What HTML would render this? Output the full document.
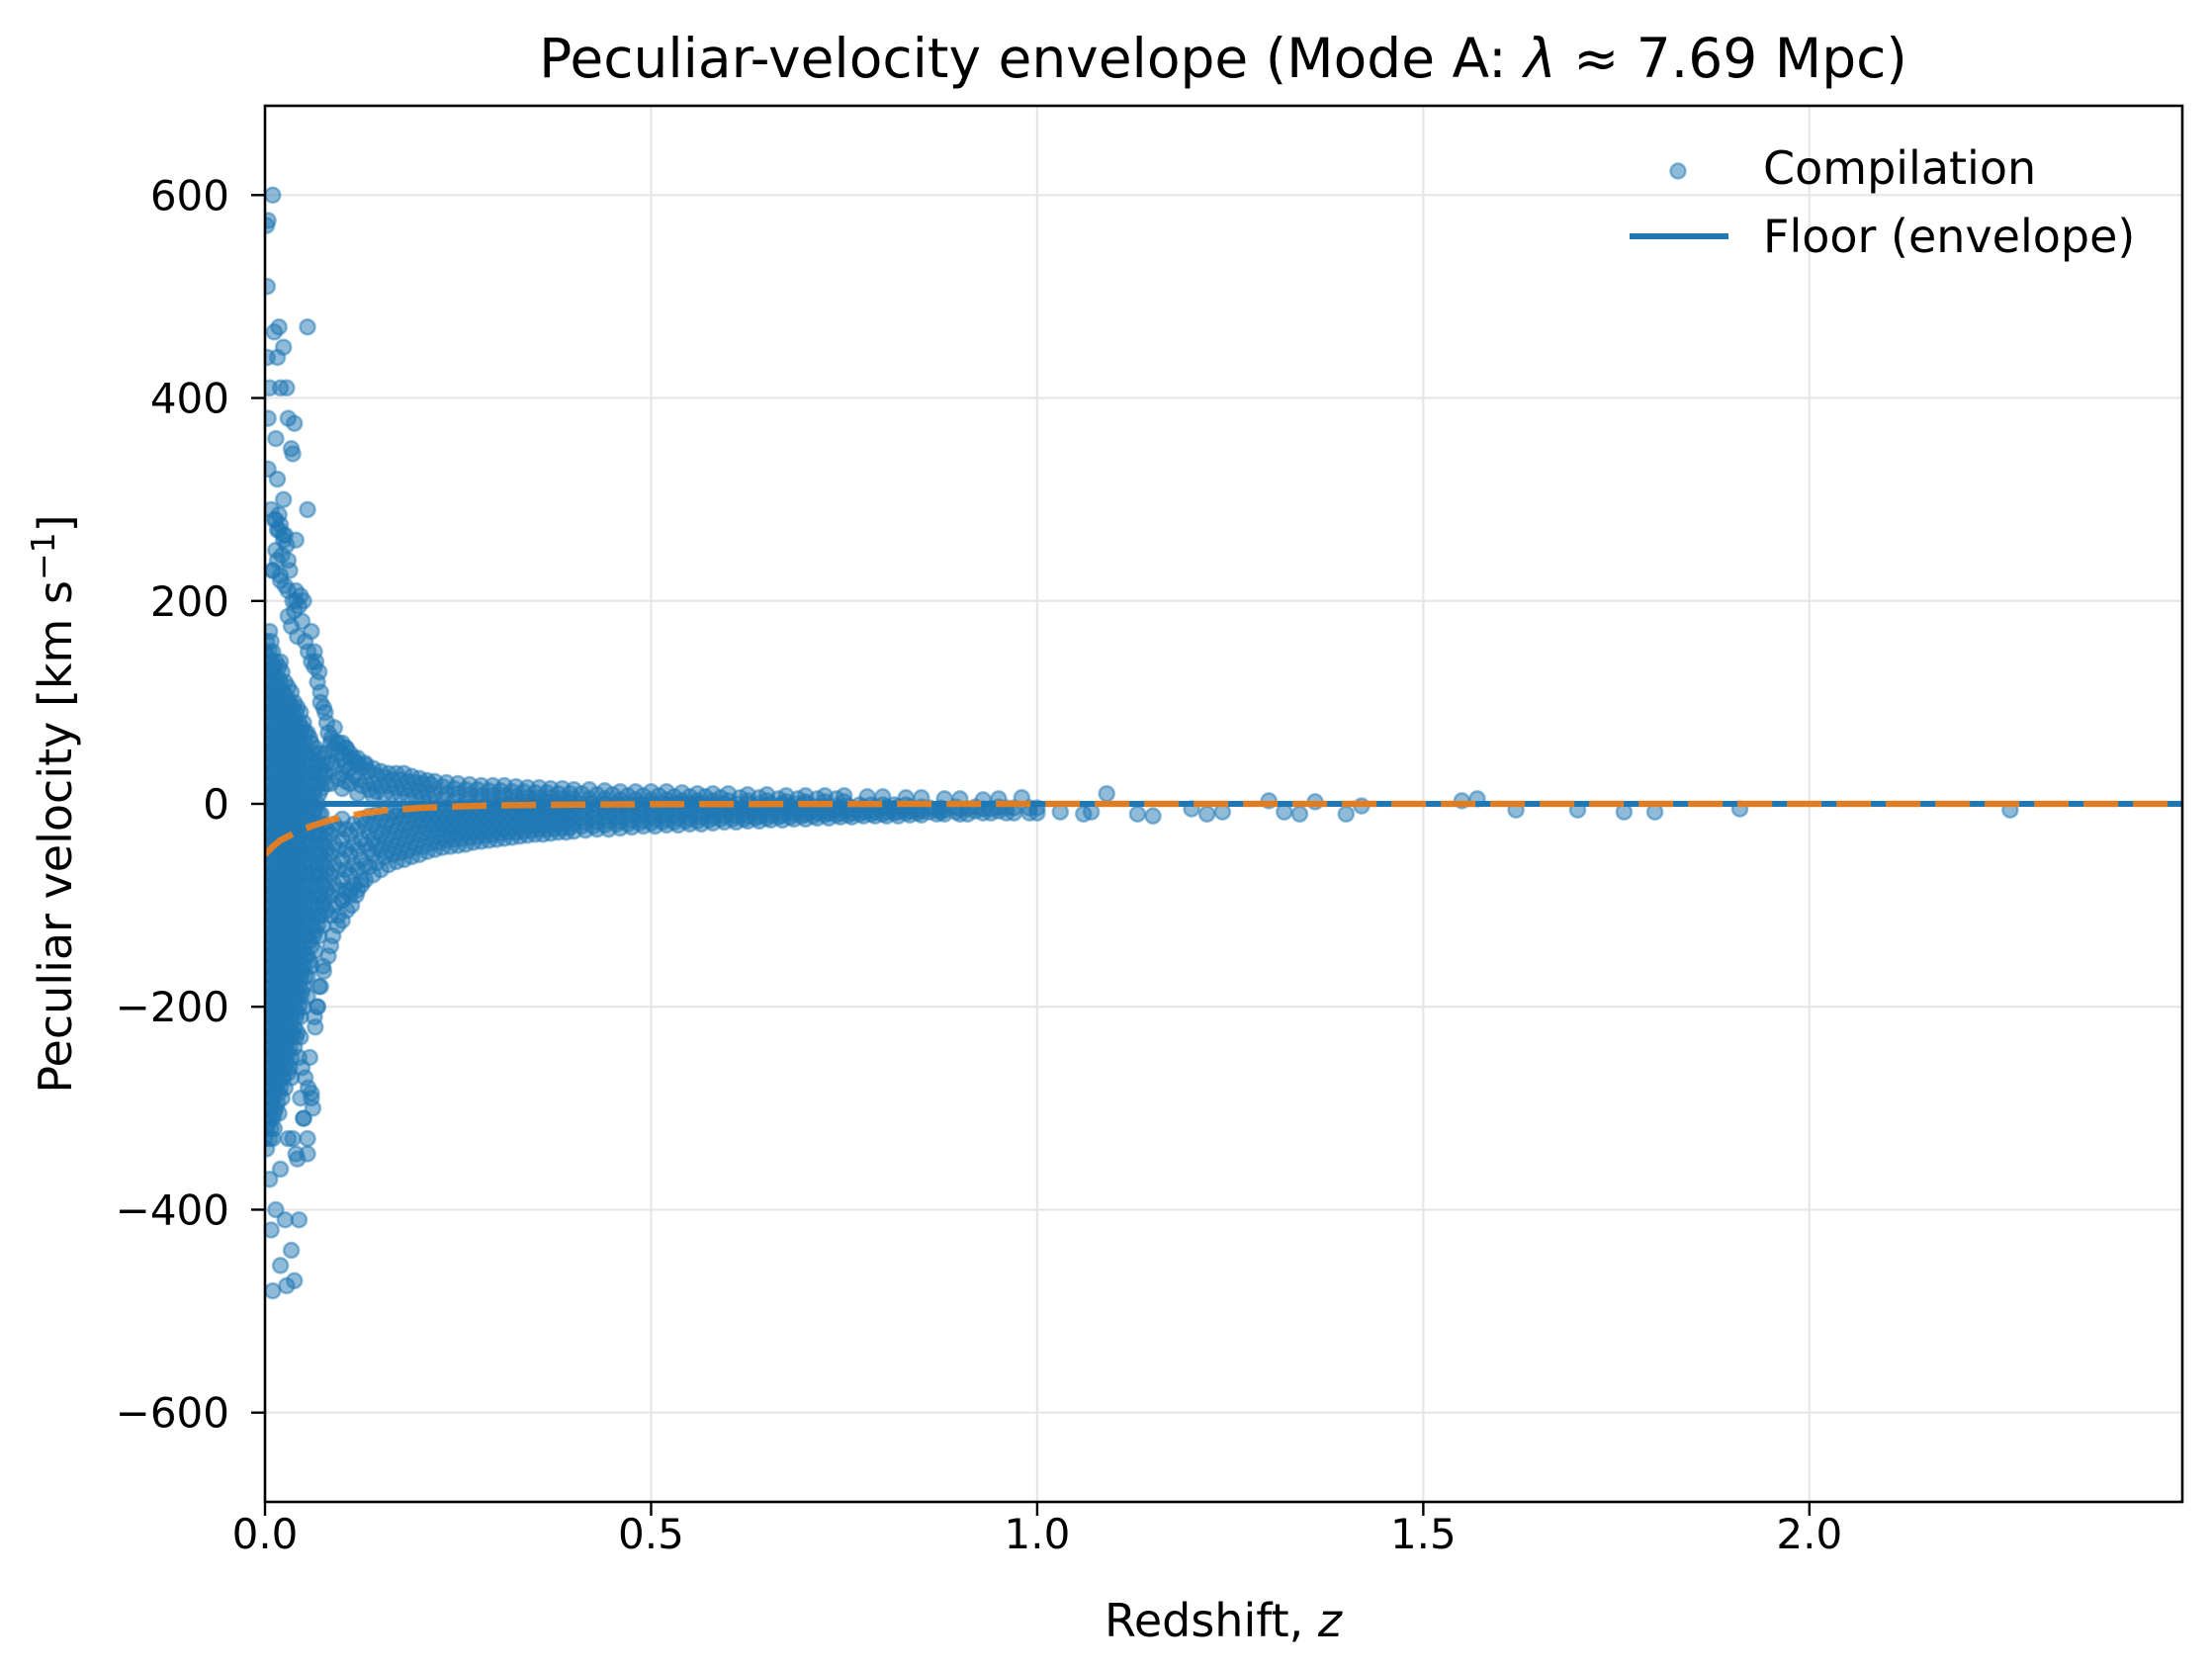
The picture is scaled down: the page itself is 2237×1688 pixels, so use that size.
<!DOCTYPE html>
<html><head><meta charset="utf-8"><title>Peculiar-velocity envelope</title>
<style>html,body{margin:0;padding:0;background:#fff}svg{display:block}text{font-family:"DejaVu Sans","Liberation Sans",sans-serif;fill:#000}</style>
</head><body>
<svg id="chart" xmlns="http://www.w3.org/2000/svg" width="2237" height="1688" viewBox="0 0 2237 1688"></svg>
<script>
// ---- data ----
const xTicks = [0, 0.5, 1.0, 1.5, 2.0];
const xTickLabels = ["0.0", "0.5", "1.0", "1.5", "2.0"];
const yTicks = [-600, -400, -200, 0, 200, 400, 600];
const yTickLabels = ["\u2212600", "\u2212400", "\u2212200", "0", "200", "400", "600"];
const coreColumns = [
[0.002,160,140,120,100,80,60,40,20,0,-20,-40,-60,-80,-100,-120,-140,-160,-180,-200,-220,-240,-260,-280,-300,-320,-340],
[0.006,170,150,130,110,90,70,50,30,10,-10,-30,-50,-70,-90,-110,-130,-150,-170,-190,-210,-230,-250,-270,-290,-310,-330],
[0.010,150,130,110,90,70,50,30,10,-10,-30,-50,-70,-90,-110,-130,-150,-170,-190,-210,-230,-250,-270,-290,-310,-330],
[0.014,140,120,100,80,60,40,20,0,-20,-40,-60,-80,-100,-120,-140,-160,-180,-200,-220,-240,-260,-280,-300],
[0.018,135,115,95,75,55,35,15,-5,-25,-45,-65,-85,-105,-125,-145,-165,-185,-205,-225,-245,-265,-285,-305],
[0.022,130,110,90,70,50,30,10,-10,-30,-50,-70,-90,-110,-130,-150,-170,-190,-210,-230,-250,-270,-290],
[0.026,120,100,80,60,40,20,0,-20,-40,-60,-80,-100,-120,-140,-160,-180,-200,-220,-240,-260,-280],
[0.030,115,95,75,55,35,15,-5,-25,-45,-65,-85,-105,-125,-145,-165,-185,-205,-225,-245,-265],
[0.034,110,90,70,50,30,10,-10,-30,-50,-70,-90,-110,-130,-150,-170,-190,-210,-230,-250,-270],
[0.038,100,80,60,40,20,0,-20,-40,-60,-80,-100,-120,-140,-160,-180,-200,-220,-240],
[0.042,95,75,55,35,15,-5,-25,-45,-65,-85,-105,-125,-145,-165,-185,-205,-225],
[0.046,90,70,50,30,10,-10,-30,-50,-70,-90,-110,-130,-150,-170,-190,-210,-230],
[0.050,80,60,40,20,0,-20,-40,-60,-80,-100,-120,-140,-160,-180,-200],
[0.055,70,50,30,10,-10,-30,-50,-70,-90,-110,-130,-150,-170,-190],
[0.060,60,40,20,0,-20,-40,-60,-80,-100,-120,-140,-160],
[0.065,55,35,15,-5,-25,-45,-65,-85,-105,-125,-145],
[0.070,50,30,10,-10,-30,-50,-70,-90,-110,-130],
[0.075,45,25,-20,-40,-60,-80,-100,-120],
[0.080,40,20,-25,-45,-65,-85,-105]
];
const coreColumnsFill = [
[0.000,150,130,110,90,70,50,30,10,-10,-30,-50,-70,-90,-110,-130,-150,-170,-190,-210,-230,-250,-270,-290,-310,-330],
[0.004,145,125,105,85,65,45,25,5,-15,-35,-55,-75,-95,-115,-135,-155,-175,-195,-215,-235,-255,-275,-295,-315],
[0.008,160,140,120,100,80,60,40,20,0,-20,-40,-60,-80,-100,-120,-140,-160,-180,-200,-220,-240,-260,-280,-300,-320],
[0.012,135,115,95,75,55,35,15,-5,-25,-45,-65,-85,-105,-125,-145,-165,-185,-205,-225,-245,-265,-285,-305],
[0.016,125,105,85,65,45,25,5,-15,-35,-55,-75,-95,-115,-135,-155,-175,-195,-215,-235,-255,-275,-295],
[0.020,140,120,100,80,60,40,20,0,-20,-40,-60,-80,-100,-120,-140,-160,-180,-200,-220,-240,-260,-280],
[0.024,110,90,70,50,30,10,-10,-30,-50,-70,-90,-110,-130,-150,-170,-190,-210,-230,-250,-270],
[0.028,105,85,65,45,25,5,-15,-35,-55,-75,-95,-115,-135,-155,-175,-195,-215,-235,-255],
[0.032,100,80,60,40,20,0,-20,-40,-60,-80,-100,-120,-140,-160,-180,-200,-220,-240,-260],
[0.036,95,75,55,35,15,-5,-25,-45,-65,-85,-105,-125,-145,-165,-185,-205,-225],
[0.040,90,70,50,30,10,-10,-30,-50,-70,-90,-110,-130,-150,-170,-190,-210],
[0.044,80,60,40,20,0,-20,-40,-60,-80,-100,-120,-140,-160,-180,-200],
[0.048,75,55,35,15,-5,-25,-45,-65,-85,-105,-125,-145,-165,-185],
[0.052,70,50,30,10,-10,-30,-50,-70,-90,-110,-130,-150,-170],
[0.058,65,45,25,5,-15,-35,-55,-75,-95,-115,-135,-155],
[0.063,50,30,10,-10,-30,-50,-70,-90,-110,-130],
[0.068,40,20,0,-20,-40,-60,-80,-100,-120],
[0.073,35,15,-10,-30,-50,-70,-90,-110],
[0.078,50,30,-35,-55,-75,-95]
];
const lowerBand = [
[0.09,-20,-40,-60,-80,-100],[0.10,-15,-35,-55,-75,-95],[0.11,-30,-50,-70,-90],[0.12,-25,-45,-65,-85],
[0.13,-20,-40,-60,-75],[0.14,-20,-35,-50,-70],[0.15,-15,-30,-45,-65],[0.16,-15,-30,-45,-60],
[0.17,-12,-27,-42,-57],[0.18,-12,-25,-40,-55],[0.19,-11,-24,-38,-52],[0.20,-10,-22,-35,-50],[0.21,-10,-21,-33,-47],
[0.22,-10,-20,-32,-45],[0.23,-9,-20,-31,-43],[0.24,-8,-20,-30,-42],[0.25,-8,-19,-29,-41],[0.26,-8,-18,-28,-40],[0.27,-7,-17,-27,-38],[0.28,-6,-16,-26,-37],
[0.29,-6,-16,-25,-36],[0.30,-5,-15,-25,-35],[0.31,-5,-15,-24,-34],[0.32,-5,-14,-24,-33],[0.33,-5,-14,-23,-32],[0.34,-4,-13,-22,-31],[0.35,-4,-13,-21,-30],[0.36,-4,-12,-21,-30],
[0.37,-3,-12,-20,-29],[0.38,-3,-12,-20,-28],[0.39,-3,-11,-19,-28],[0.40,-3,-11,-19,-27],[0.415,-2,-10,-18,-26],[0.43,-2,-10,-18,-25],[0.445,-2,-9,-17,-25],[0.46,-2,-9,-17,-24],
[0.475,-1,-8,-16,-23],[0.49,-1,-8,-16,-22],[0.505,-1,-8,-15,-22],[0.52,-1,-8,-15,-21],[0.535,0,-7,-14,-21],[0.55,0,-7,-14,-20],[0.565,0,-7,-13,-20],[0.58,0,-7,-13,-19],
[0.595,0,-6,-12,-18],[0.61,0,-6,-12,-18],[0.625,0,-6,-12,-17],[0.64,0,-6,-12,-17],[0.655,0,-5,-11,-16],[0.67,0,-5,-11,-16],[0.685,0,-5,-10,-15],[0.70,0,-5,-10,-15],
[0.715,-4,-9,-14],[0.73,-4,-9,-14],[0.745,-4,-9,-13],[0.76,-4,-9,-13],[0.775,-3,-8,-12],[0.79,-3,-8,-12],[0.805,-3,-8,-12],[0.82,-3,-8,-12],[0.835,-3,-7,-11],[0.85,-3,-7,-11],
[0.87,-6,-10],[0.88,-6,-10],[0.90,-5,-10],[0.91,-5,-10],[0.93,-5,-9],[0.94,-5,-9],[0.96,-4,-9],[0.97,-4,-9],[0.99,-4,-9],[1.00,-4,-9],[1.03,-8],[1.06,-10]
];
const lowerBandFill = [
[0.085,-30,-50,-70,-90,-110],[0.095,-25,-45,-65,-85],[0.105,-25,-45,-65,-85],[0.115,-20,-40,-60,-80],[0.125,-15,-35,-55,-75],
[0.135,-12,-28,-45,-62],[0.145,-10,-27,-42,-58],[0.155,-8,-22,-38,-52],[0.165,-8,-21,-36,-50],[0.175,-6,-19,-34,-48],[0.185,-6,-18,-32,-46],
[0.195,-5,-17,-29,-43],[0.205,-5,-16,-28,-42],[0.215,-5,-15,-27,-39],[0.225,-4,-15,-26,-38],[0.235,-4,-14,-25,-36],[0.245,-4,-14,-24,-35],
[0.255,-3,-13,-24,-34],[0.265,-3,-12,-23,-33],[0.275,-3,-12,-22,-32],[0.285,-2,-11,-21,-31],[0.295,-2,-10,-20,-30],[0.305,-2,-10,-20,-29],
[0.315,-1,-10,-19,-28],[0.325,-1,-9,-19,-28],[0.335,-1,-9,-18,-27],[0.345,-1,-8,-17,-26],[0.355,0,-8,-16,-25],[0.365,0,-8,-16,-25],
[0.375,0,-7,-16,-24],[0.385,0,-7,-15,-24],[0.395,0,-7,-15,-23],[0.41,0,-6,-14,-22],[0.425,0,-6,-14,-22],[0.44,0,-6,-13,-21],[0.455,0,-5,-13,-20],
[0.47,0,-5,-12,-20],[0.485,0,-5,-12,-19],[0.50,0,-4,-12,-19],[0.515,0,-4,-11,-18],[0.53,0,-4,-11,-18],[0.545,0,-4,-10,-17],[0.56,0,-3,-10,-17],
[0.575,-3,-10,-16],[0.59,-3,-9,-15],[0.605,-3,-9,-15],[0.62,-3,-9,-15],[0.635,-3,-8,-14],[0.65,-2,-8,-14],[0.665,-2,-8,-13],[0.68,-2,-8,-13],
[0.695,-2,-7,-12],[0.71,-2,-7,-12],[0.725,-2,-7,-11],[0.74,-2,-6,-11],[0.755,-2,-6,-11],[0.77,-1,-6,-10],[0.785,-1,-6,-10],[0.80,-1,-5,-10],
[0.815,-1,-5,-9],[0.83,-1,-5,-9],[0.845,-5,-9],[0.86,-4,-8],[0.875,-4,-8],[0.895,-3,-8],[0.92,-3,-7],[0.95,-3,-7]
];
const upperBand = [
[0.085,60,40,20],[0.09,55,35],[0.10,60,45,30,15],[0.11,50,35,20],[0.12,40,25,10],[0.13,38,22],[0.14,35,20,8],[0.15,32,18],[0.16,30,18],[0.17,30,16],
[0.18,30,15],[0.19,27,14],[0.20,25,12],[0.21,23,11],[0.22,22,10],[0.235,21,10],[0.25,20,10],[0.265,19,9],[0.28,18,8],[0.295,18,8],[0.31,18,8],[0.325,17,7],
[0.34,16,6],[0.355,16,6],[0.37,15,6],[0.385,15,5],[0.40,14,5],[0.42,14,5],[0.44,13,5],[0.46,12,4],[0.48,12,4],[0.50,12,4],[0.52,12,4],[0.54,11,3],[0.56,10,3],
[0.58,10,3],[0.60,10,3],[0.625,9,3],[0.65,9,3],[0.675,8,2],[0.70,8,2],[0.725,8,2],[0.75,8,2],[0.78,7],[0.80,7],[0.83,6],[0.85,6],[0.88,5],[0.90,5],[0.93,4],[0.95,5],[0.98,6]
];
const upperBandFill = [
[0.095,50,25],[0.105,55,38,22],[0.115,45,28],[0.125,36,18],[0.135,32,14],[0.145,28,12],[0.155,26,10],[0.165,24,10],[0.175,24,9],[0.185,22,8],
[0.195,21,7],[0.205,20,6],[0.215,19,5],[0.23,17,5],[0.245,15,4],[0.26,14,4],[0.275,14,3],[0.29,13,3],[0.305,13,3],[0.32,12,2],[0.335,12,2],
[0.35,11,2],[0.365,11,2],[0.38,10,1],[0.395,10,1],[0.41,10],[0.43,9],[0.45,9],[0.47,8],[0.49,8],[0.51,8],[0.53,7],[0.55,7],[0.57,7],[0.59,6],
[0.615,6],[0.64,6],[0.665,5],[0.69,5],[0.715,5],[0.74,5]
];
const outlierZ = [0.010,0.004,0.002,0.003,0.003,0.012,0.018,0.024,0.016,0.055,0.006,0.020,0.028,0.004,0.014,0.030,0.038,0.034,0.036,0.004,0.016,0.024,0.008,0.014,0.018,0.024,0.040,0.055,0.010,0.016,0.020,0.030,0.040,0.046,0.050,0.060,0.064,0.066,0.070,0.072,0.078,0.082,0.090,0.095,0.105,0.120,0.130,
 0.010,0.028,0.038,0.020,0.034,0.008,0.026,0.044,0.014,0.006,0.020,0.040,0.055,0.030,0.050,0.012,0.046,0.060,0.058,0.065,0.068,0.070,0.075,0.085,0.095,0.100,0.110,0.125,
 1.09,1.07,1.13,1.15,1.20,1.22,1.24,1.30,1.32,1.34,1.36,1.40,1.42,1.55,1.57,1.62,1.70,1.76,1.80,1.91,2.26];
const outlierV = [600,575,570,510,440,465,470,450,440,470,410,410,410,380,360,380,375,350,345,330,320,300,290,280,270,265,260,290,230,240,220,210,200,205,200,170,150,140,130,100,90,70,75,60,55,45,40,
 -480,-475,-470,-455,-440,-420,-410,-410,-400,-370,-360,-345,-345,-330,-310,-320,-290,-285,-250,-220,-200,-180,-160,-140,-110,-95,-85,-80,
 10,-8,-10,-12,-5,-10,-8,3,-8,-10,2,-10,-2,3,5,-6,-6,-8,-8,-5,-6];
const extraZ = [0.012,0.016,0.020,0.024,0.028,0.014,0.018,0.022,0.026,0.030,0.010,0.020,0.026,0.032,0.036,0.040,0.044,0.030,0.034,0.038,0.042,0.048,0.052,0.056,0.060,0.064,0.068,0.072,0.076,0.080,0.086,0.092,0.100,0.110,0.118,
 0.040,0.044,0.048,0.052,0.056,0.060,0.064,0.068,0.072,0.076,0.082,0.088,0.094,0.100,0.106,0.112,0.118,0.050,0.055,0.062,0.036,0.042];
const extraV = [280,270,275,260,255,250,285,245,265,240,230,225,215,230,200,210,195,185,175,190,165,180,160,150,140,135,120,110,95,80,65,60,50,45,40,
 -230,-250,-260,-270,-280,-290,-210,-200,-180,-165,-150,-130,-120,-115,-105,-100,-90,-310,-330,-300,-330,-350];
const envelopeZ = [0, 0.01, 0.02, 0.04, 0.06, 0.08, 0.10, 0.13, 0.16, 0.20, 0.25, 0.30, 0.40, 0.50, 0.70, 1.0, 2.5];
const envelopeV = [-50, -42, -36, -28, -22, -17, -13, -9, -6, -4, -2.5, -1.5, -0.8, -0.4, -0.1, 0, 0];
const floorZ = [0, 2.5];
const floorV = [0, 0];

// ---- layout ----
const L = 268, R = 2207, T = 107, B = 1519;
const xMin = 0, xMax = 2.483, yMin = -688, yMax = 688;
const xs = z => L + (z - xMin) / (xMax - xMin) * (R - L);
const ys = v => B - (v - yMin) / (yMax - yMin) * (B - T);
const NS = "http://www.w3.org/2000/svg";
const svg = document.getElementById('chart');
function mk(tag, attrs, parent) {
  const e = document.createElementNS(NS, tag);
  for (const k in attrs) e.setAttribute(k, attrs[k]);
  (parent || svg).appendChild(e);
  return e;
}
const clip = mk('clipPath', {id: 'plotclip'});
mk('rect', {x: L, y: T, width: R - L, height: B - T}, clip);

const grid = mk('g', {});


xTicks.forEach((t) => {
  const g = mk('line', {x1: xs(t), x2: xs(t), y1: T, y2: B, stroke: '#e6e6e6', 'stroke-width': 2.2}, grid);
  
  
});
yTicks.forEach((t) => {
  const g = mk('line', {x1: L, x2: R, y1: ys(t), y2: ys(t), stroke: '#e6e6e6', 'stroke-width': 2.2}, grid);
  
  
});

function pathFrom(zArr, vArr) {
  return zArr.map((z, i) => (i ? 'L' : 'M') + xs(z).toFixed(1) + ' ' + ys(vArr[i]).toFixed(1)).join(' ');
}
const floor = mk('path', {d: pathFrom(floorZ, floorV), stroke: '#1f77b4', 'stroke-width': 6, fill: 'none', 'clip-path': 'url(#plotclip)'});



const pts = mk('g', {'clip-path': 'url(#plotclip)'});


function dot(z, v) {
  const c = mk('circle', {cx: xs(z).toFixed(1), cy: ys(v).toFixed(1), r: 7.5, fill: 'rgba(31,119,180,0.5)', stroke: 'rgba(31,119,180,0.5)', 'stroke-width': 2.5}, pts);
  
  
}
[coreColumns, coreColumnsFill, lowerBand, lowerBandFill, upperBand, upperBandFill].forEach(set => set.forEach(row => {
  for (let j = 1; j < row.length; j++) dot(row[0], row[j]);
}));
outlierZ.forEach((z, i) => dot(z, outlierV[i]));
extraZ.forEach((z, i) => dot(z, extraV[i]));

const env = mk('path', {d: pathFrom(envelopeZ, envelopeV), stroke: '#ff7f0e', 'stroke-opacity': 0.85, 'stroke-width': 6.5, 'stroke-dasharray': '35 15', fill: 'none', 'clip-path': 'url(#plotclip)'});



const frame = mk('rect', {x: L, y: T, width: R - L, height: B - T, fill: 'none', stroke: '#000', 'stroke-width': 2.6});



xTicks.forEach((t, i) => {
  const tk = mk('line', {x1: xs(t), x2: xs(t), y1: B, y2: B + 14, stroke: '#000', 'stroke-width': 2.4});
  
  
  const tx = mk('text', {x: xs(t), y: 1566, 'text-anchor': 'middle', 'font-size': 42});
  tx.textContent = xTickLabels[i];
  
  
});
yTicks.forEach((t, i) => {
  const tk = mk('line', {x1: L - 14, x2: L, y1: ys(t), y2: ys(t), stroke: '#000', 'stroke-width': 2.4});
  
  
  const tx = mk('text', {x: 232, y: ys(t) + 15, 'text-anchor': 'end', 'font-size': 42});
  tx.textContent = yTickLabels[i];
  
  
});
</script>
<svg style="position:absolute;left:0;top:0" width="2237" height="1688" xmlns="http://www.w3.org/2000/svg">
  <text x="1237" y="78" text-anchor="middle" font-size="55">Peculiar-velocity envelope (Mode A: <tspan font-style="italic">λ</tspan> ≈ 7.69 Mpc)</text>
  <text x="1237" y="1655" text-anchor="middle" font-size="46">Redshift, <tspan font-style="italic">z</tspan></text>
  <text transform="translate(72,813) rotate(-90)" text-anchor="middle" font-size="46">Peculiar velocity [km s<tspan dy="-17" font-size="33">−1</tspan><tspan dy="17">]</tspan></text>
  <g>
    <circle cx="1697" cy="173" r="7.5" fill="rgba(31,119,180,0.5)" stroke="rgba(31,119,180,0.5)" stroke-width="2.5"/>
    <text x="1783" y="186" font-size="46">Compilation</text>
    <line x1="1648" x2="1748" y1="239" y2="239" stroke="#1f77b4" stroke-width="6"/>
    <text x="1783" y="255" font-size="46">Floor (envelope)</text>
  </g>
</svg>
</body></html>
